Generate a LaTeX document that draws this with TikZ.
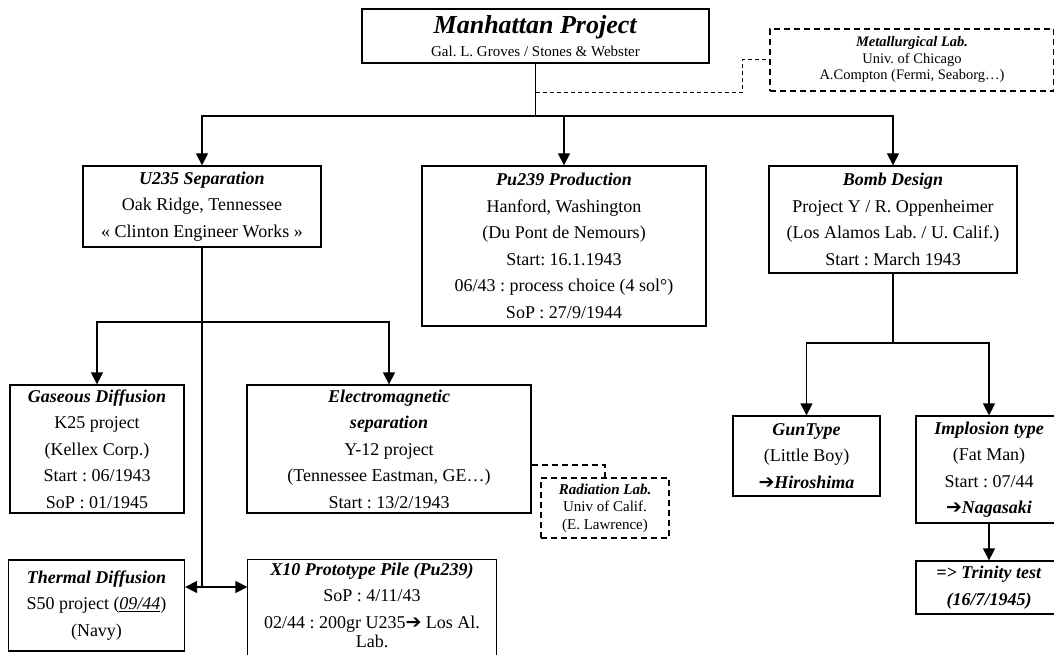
\documentclass[tikz,border=0pt]{standalone}
\usepackage{fontspec}
\setmainfont{Liberation Serif}
\newfontfamily\dejavu{DejaVu Sans}
\usetikzlibrary{arrows.meta}
\newcommand{\bi}[1]{\textbf{\textit{#1}}}
\newcommand{\rarr}{{\dejavu\fontsize{19}{19}\selectfont\char"2794}}
\begin{document}
\frenchspacing
\begin{tikzpicture}[x=1pt,y=-1pt,
 bx/.style={draw, line width=1.3pt, align=center, inner sep=0pt, font=\fontsize{18}{26.5}\selectfont},
 dbx/.style={draw, line width=1.8pt, dash pattern=on 6pt off 4pt, align=center, inner sep=0pt},
 arr/.style={line width=1.3pt, -{Triangle[length=12pt,width=12pt]}},
 ln/.style={line width=1.3pt},
 dln/.style={line width=1pt, dash pattern=on 4pt off 3pt},
 dln2/.style={line width=1.6pt, dash pattern=on 6pt off 4pt}]
\useasboundingbox (0,0) rectangle (1054,655);
\fill[white] (0,0) rectangle (1054,655);

\node[bx, minimum width=347pt, minimum height=54pt, font=\fontsize{15}{23}\selectfont] (mp) at (535.5,36)
 {{\fontsize{26}{23}\selectfont\bi{Manhattan Project}}\\ Gal. L. Groves / Stones \& Webster};

\node[dbx, minimum width=284pt, minimum height=62pt, font=\fontsize{14.5}{16.5}\selectfont] (metal) at (912,60)
 {\bi{Metallurgical Lab.}\\ Univ. of Chicago\\ A.Compton (Fermi, Seaborg…)};

\node[bx, minimum width=238pt, minimum height=81pt] (u235) at (202,206.5)
 {\bi{U235 Separation}\\ Oak Ridge, Tennessee\\ « Clinton Engineer Works »};
\node[bx, minimum width=284pt, minimum height=160pt] (pu) at (564,246)
 {\bi{Pu239 Production}\\ Hanford, Washington\\ (Du Pont de Nemours)\\ Start: 16.1.1943\\ 06/43 : process choice (4 sol°)\\ SoP : 27/9/1944};
\node[bx, minimum width=248pt, minimum height=107pt] (bomb) at (893,219.5)
 {\bi{Bomb Design}\\ Project Y / R. Oppenheimer\\ (Los Alamos Lab. / U. Calif.)\\ Start : March 1943};

\node[bx, minimum width=174pt, minimum height=128pt] (gas) at (97,449)
 {\bi{Gaseous Diffusion}\\ K25 project\\ (Kellex Corp.)\\ Start : 06/1943\\ SoP : 01/1945};
\node[bx, minimum width=284pt, minimum height=128pt] (em) at (389,449)
 {\bi{Electromagnetic}\\ \bi{separation}\\ Y-12 project\\ (Tennessee Eastman, GE…)\\ Start : 13/2/1943};
\node[dbx, minimum width=128pt, minimum height=60pt, font=\fontsize{15}{17.5}\selectfont] (rad) at (605,508)
 {\bi{Radiation Lab.}\\ Univ of Calif.\\ (E. Lawrence)};

\node[bx, minimum width=176pt, minimum height=91pt] (th) at (96.5,605.5)
 {\bi{Thermal Diffusion}\\ S50 project (\underline{\textit{09/44}})\\ (Navy)};
\node[bx, draw=none, minimum width=248pt, minimum height=91pt] (x10) at (372,605.5)
 {\bi{X10 Prototype Pile (Pu239)}\\ SoP : 4/11/43\\ 02/44 : 200gr U235\rarr{} Los Al.\\[-7pt] Lab.};
\draw[ln] ([yshift=-20pt]x10.south west) |- (x10.north east) -- ([yshift=-20pt]x10.south east);

\node[bx, minimum width=147pt, minimum height=80pt] (gun) at (806.5,456)
 {\bi{GunType}\\ (Little Boy)\\ \rarr\bi{Hiroshima}};
\node[bx, minimum width=146pt, minimum height=107pt] (imp) at (989,469.5)
 {\bi{Implosion type}\\ (Fat Man)\\ Start : 07/44\\ \rarr\bi{Nagasaki}};
\node[bx, minimum width=146pt, minimum height=53pt] (tri) at (989,587.5)
 {\bi{=> Trinity test}\\ \bi{(16/7/1945)}};

% connectors
\coordinate (j1) at (535.5,116);
\draw[ln] (mp.south) -- (j1);
\draw[arr] (j1) -| (u235.north);
\draw[arr] (j1) -| (bomb.north);
\draw[arr] (j1 -| pu.north) -- (pu.north);

\coordinate (m1) at (535.5,93);
\coordinate (m2) at (742,93);
\draw[dln] (m1) -- (m2) |- (metal.west);

\coordinate (j2) at (202,322);
\coordinate (j3) at (202,587);
\draw[ln] (u235.south) -- (j3);
\draw[arr] (j2) -| (gas.north);
\draw[arr] (j2) -| (em.north);
\draw[arr] (j3) -- (j3 -| th.east);
\draw[arr] (j3) -- (j3 -| x10.west);

\draw[dln2] ([yshift=-16pt]em.east) -| (rad.north);

\coordinate (j4) at (893,343);
\draw[ln] (bomb.south) -- (j4);
\draw[arr] (j4) -| (gun.north);
\draw[arr] (j4) -| (imp.north);
\draw[arr] (imp.south) -- (tri.north);
\end{tikzpicture}
\end{document}
